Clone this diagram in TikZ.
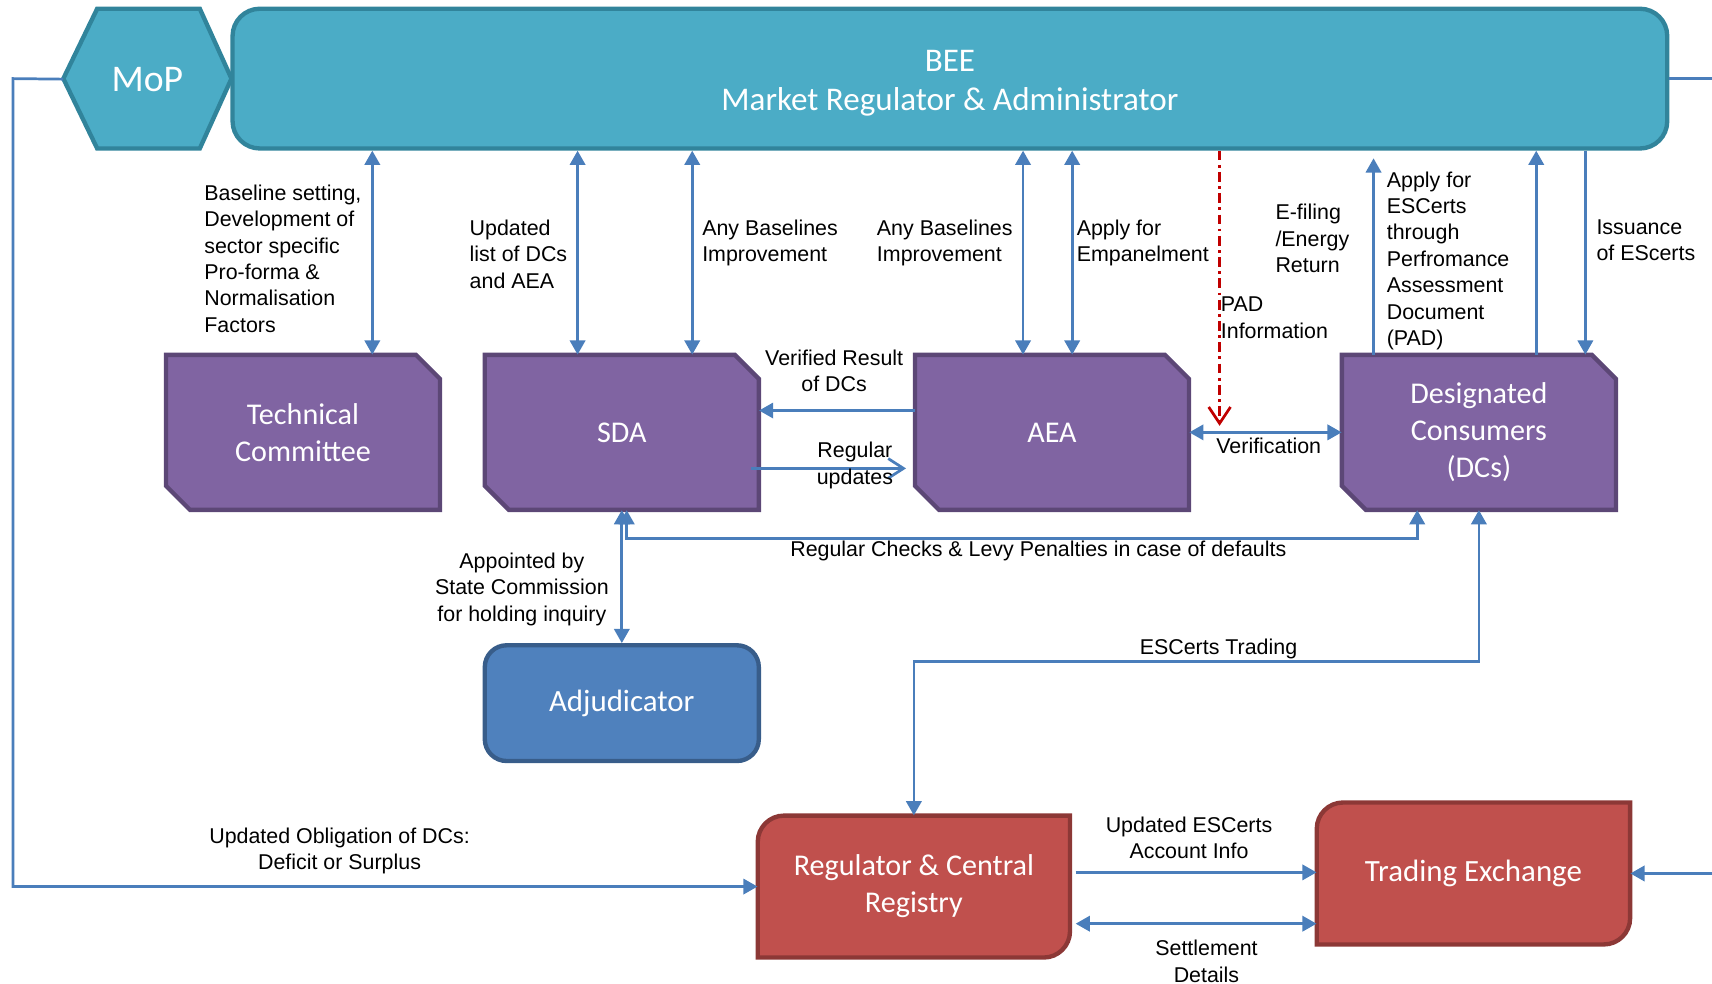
\documentclass[tikz,border=0pt]{standalone}
\usepackage{fontspec}
\setmainfont{Liberation Sans}
\newfontfamily\calib{Carlito}
\usetikzlibrary{arrows.meta}
\definecolor{tealfill}{HTML}{4BACC6}
\definecolor{tealdraw}{HTML}{31849B}
\definecolor{purfill}{HTML}{8064A2}
\definecolor{purdraw}{HTML}{5C4776}
\definecolor{arrowblue}{HTML}{4A7EBB}
\definecolor{adjfill}{HTML}{4F81BD}
\definecolor{adjdraw}{HTML}{385D8A}
\definecolor{redfill}{HTML}{C0504D}
\definecolor{reddraw}{HTML}{8C3836}
\definecolor{padred}{HTML}{C00000}
\newcommand\snipshape[2]{%
  \filldraw[pshape] (#1-125.5,#2-71) -- (#1+103.5,#2-71) -- (#1+125.5,#2-49) -- (#1+125.5,#2+71) -- (#1-103.5,#2+71) -- (#1-125.5,#2+49) -- cycle;}
\newcommand\roundshape[4]{% L T R B
  \filldraw[rshape] (#1,#2+24) .. controls (#1,#2+10.8) and (#1+10.8,#2) .. (#1+24,#2) -- (#3,#2) -- (#3,#4-24) .. controls (#3,#4-10.8) and (#3-10.8,#4) .. (#3-24,#4) -- (#1,#4) -- cycle;}
\begin{document}
\begin{tikzpicture}[x=1pt,y=-1pt,
  lbl/.style={font=\fontsize{19.6}{24.2}\selectfont, inner sep=0pt, align=left, anchor=north west},
  lblc/.style={lbl, align=center, anchor=north},
  boxtext/.style={inner sep=0pt, text=white, align=center, font=\calib\fontsize{27.6}{33.8}\selectfont},
  pshape/.style={fill=purfill, draw=purdraw, line width=4pt, line join=miter},
  rshape/.style={fill=redfill, draw=reddraw, line width=4pt, line join=miter},
  pbox/.style={boxtext, minimum width=251pt, minimum height=142pt},
  arr/.style={draw=arrowblue, line width=2.5pt, -{Triangle[length=13pt,width=14pt]}},
  dbl/.style={draw=arrowblue, line width=2.5pt, {Triangle[length=13pt,width=14pt]}-{Triangle[length=13pt,width=14pt]}},
  openarr/.style={draw=arrowblue, line width=2.5pt, -{Straight Barb[length=14pt,width=18pt]}},
  plain/.style={draw=arrowblue, line width=2.5pt},
  pad/.style={draw=padred, line width=2.5pt, dash pattern=on 9pt off 4pt on 2.5pt off 4pt, -{Straight Barb[length=15pt,width=20pt]}},
]
\useasboundingbox (0,0) rectangle (1568,901);

% MoP hexagon
\filldraw[fill=tealfill, draw=tealdraw, line width=4pt, line join=miter]
  (58,72) -- (89,8) -- (183,8) -- (212,72) -- (183,136) -- (89,136) -- cycle;
\node[inner sep=0pt, minimum width=154pt, minimum height=128pt, text=white, font=\calib\fontsize{34.5}{40}\selectfont] (mop) at (135,72.5) {MoP};

% BEE
\node[fill=tealfill, draw=tealdraw, line width=4pt, rounded corners=25pt, minimum width=1314pt, minimum height=128pt, inner sep=0pt] (bee) at (870,72) {};
\node[inner sep=0pt, text=white, align=center, font=\calib\fontsize{30.3}{36}\selectfont] (beetext) at (870,76) {BEE\\Market Regulator \& Administrator};

% purple boxes
\snipshape{277.5}{396}
\node[pbox] (tc) at (277.5,396) {Technical\\Committee};
\snipshape{569.5}{396}
\node[pbox] (sda) at (569.5,396) {SDA};
\snipshape{963.5}{396}
\node[pbox] (aea) at (963.5,396) {AEA};
\snipshape{1354.5}{396}
\node[pbox] (dcs) at (1354.5,396) {Designated\\Consumers\\(DCs)};

% Adjudicator
\node[boxtext, font=\calib\fontsize{28.3}{34}\selectfont, fill=adjfill, draw=adjdraw, line width=4pt, rounded corners=20pt, minimum width=251pt, minimum height=106pt] (adj) at (569.5,644) {Adjudicator};

% red boxes
\roundshape{694}{747}{980}{877}
\node[boxtext, minimum width=286pt, minimum height=130pt] (reg) at (837,812) {Regulator \& Central\\Registry};
\roundshape{1206}{735}{1493}{865}
\node[boxtext, font=\calib\fontsize{28.3}{34}\selectfont, minimum width=287pt, minimum height=130pt] (trade) at (1349.5,800) {Trading Exchange};

% helper coordinates
\coordinate (x1) at (341,0);
\coordinate (x2) at (529,0);
\coordinate (x3) at (634,0);
\coordinate (x4) at (937,0);
\coordinate (x5) at (982,0);
\coordinate (x6) at (1117,0);
\coordinate (x7) at (1258,0);
\coordinate (x8) at (1407,0);
\coordinate (x9) at (1452,0);
\coordinate (xc) at (1298,0);
\coordinate (padend) at (1117,390);
\coordinate (leftc) at (12,72);
\coordinate (rtop) at (1568,72);
\coordinate (rbot) at (1568,800);
\coordinate (y376) at (0,376);
\coordinate (y429) at (0,429);
\coordinate (y606) at (0,606);
\coordinate (y799) at (0,799);
\coordinate (y846) at (0,846);

% connectors
\draw[dbl] (bee.south -| x1) -- (tc.north -| x1);
\draw[dbl] (bee.south -| x2) -- (sda.north -| x2);
\draw[dbl] (bee.south -| x3) -- (sda.north -| x3);
\draw[dbl] (bee.south -| x4) -- (aea.north -| x4);
\draw[dbl] (bee.south -| x5) -- (aea.north -| x5);
\draw[pad] (bee.south -| x6) -- (padend);
\draw[arr, shorten >=7pt] (dcs.north -| x7) -- (bee.south -| x7);
\draw[arr] (dcs.north -| x8) -- (bee.south -| x8);
\draw[arr] (bee.south -| x9) -- (dcs.north -| x9);
\draw[arr] (aea.west |- y376) -- (sda.east |- y376);
\draw[openarr, shorten <=-7pt, shorten >=8pt] (sda.east |- y429) -- (aea.west |- y429);
\draw[dbl] (aea.east) -- (dcs.west);
\draw[dbl] (sda.south) -- (adj.north);
\draw[dbl] ([xshift=4.5pt]sda.south) -- ++(0,26) -| (dcs.south -| xc);
\draw[dbl] (dcs.south) -- (dcs.south |- y606) -| (reg.north);
\draw[arr, shorten <=5pt] (reg.east |- y799) -- (trade.west |- y799);
\draw[dbl, shorten <=5pt] (reg.east |- y846) -- (trade.west |- y846);
\draw[arr] (mop.west) -- (leftc) |- (reg.west);
\draw[plain] (bee.east) -- (rtop);
\draw[arr] (rbot) -- (trade.east);

% labels
\node[lbl] (l1) at (187,169) {Baseline setting,\\Development of\\sector specific\\Pro-forma \&\\Normalisation\\Factors};
\node[lbl] (l2) at (430,201) {Updated\\list of DCs\\and AEA};
\node[lbl] (l3) at (643,201) {Any Baselines\\Improvement};
\node[lbl] (l4) at (803,201) {Any Baselines\\Improvement};
\node[lbl] (l5) at (986,201) {Apply for\\Empanelment};
\node[lbl] (l6) at (1118,272) {PAD\\Information};
\node[lbl] (l7) at (1168,187) {E-filing\\/Energy\\Return};
\node[lbl] (l8) at (1270,157) {Apply for\\ESCerts\\through\\Perfromance\\Assessment\\Document\\(PAD)};
\node[lbl] (l9) at (1462,201) {Issuance\\of EScerts};
\node[lblc] (l10) at (764,320) {Verified Result\\of DCs};
\node[lblc] (l11) at (783,405) {Regular\\updates};
\node[lblc] (l12) at (1162,401) {Verification};
\node[lblc] (l13) at (478,506) {Appointed by\\State Commission\\for holding inquiry};
\node[lblc] (l14) at (951,495) {Regular Checks \& Levy Penalties in case of defaults};
\node[lblc] (l15) at (1116,585) {ESCerts Trading};
\node[lblc] (l16) at (1089,748) {Updated ESCerts\\Account Info};
\node[lblc] (l17) at (1105,861) {Settlement\\Details};
\node[lblc] (l18) at (311,758) {Updated Obligation of DCs:\\Deficit or Surplus};
\end{tikzpicture}
\end{document}
